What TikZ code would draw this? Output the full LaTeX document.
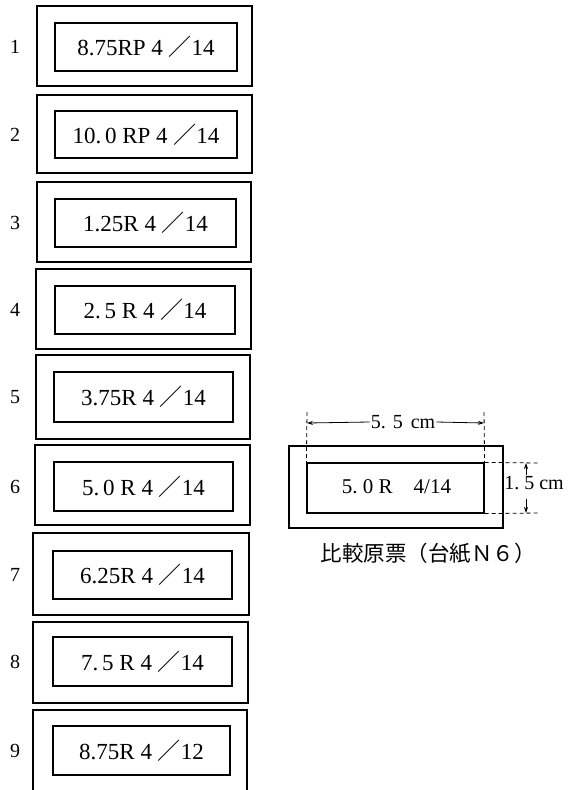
\documentclass[tikz,border=0pt]{standalone}
\usepackage{fontspec}
\setmainfont{Liberation Serif}
\newfontfamily\cjk{Noto Sans CJK JP}
\usetikzlibrary{arrows.meta}
\tikzset{
  outerbox/.style={draw, line width=1.2pt, inner sep=0pt},
  innerbox/.style={draw, line width=1.2pt, inner sep=0pt, font=\fontsize{23}{23}\selectfont},
  numlab/.style={font=\fontsize{20}{20}\selectfont, inner sep=0pt},
  dimline/.style={dashed, line width=0.8pt, dash pattern=on 4pt off 3pt},
  dimarrow/.style={line width=0.8pt, -{Stealth[length=6pt,width=4pt]}},
}
\newcommand\slotbox[9]{%
  \node[outerbox, minimum width={#3-#2}, minimum height={#5-#4}] (o#1) at ({(#2+#3)/2},{(#4+#5)/2}) {};
  \node[innerbox, minimum width={#7-#6}, minimum height={#9-#8}] (i#1) at ({(#6+#7)/2},{(#8+#9)/2}) {\boxtext};
  \node[numlab] (n#1) at (15,{(#8+#9)/2}) {#1};
}
\begin{document}
\begin{tikzpicture}[x=1pt,y=-1pt]
\useasboundingbox (0,0) rectangle (578,790);
\def\sl{{\cjk ／}}
\def\boxtext{8.75RP 4 \sl14}\slotbox{1}{37}{252}{6}{86}{55}{237}{23}{71}
\def\boxtext{10.\,0 RP 4 \sl14}\slotbox{2}{37}{252}{95}{173}{55}{237}{111}{158}
\def\boxtext{1.25R 4 \sl14}\slotbox{3}{37}{251}{182}{262}{55}{236}{199}{247}
\def\boxtext{2.\,5 R 4 \sl14}\slotbox{4}{36}{251}{269}{349}{55}{235}{286}{334}
\def\boxtext{3.75R 4 \sl14}\slotbox{5}{36}{250}{355}{439}{54}{233}{372}{422}
\def\boxtext{5.\,0 R 4 \sl14}\slotbox{6}{35}{250}{445}{525}{54}{233}{462}{511}
\def\boxtext{6.25R 4 \sl14}\slotbox{7}{33}{249}{533}{615}{53}{232}{551}{599}
\def\boxtext{7.\,5 R 4 \sl14}\slotbox{8}{33}{248}{622}{703}{53}{232}{637}{686}
% box 9: outer open at the bottom
\draw[line width=1.2pt] (33,791) -- (33,710) -- (247,710) -- (247,791);
\coordinate (o9) at (140,750);
\node[innerbox, minimum width=177, minimum height=49] (i9) at (141.5,750.5) {8.75R 4 \sl12};
\node[numlab] (n9) at (15,750.5) {9};
% reference card
\node[outerbox, minimum width=214, minimum height=82] (card) at (396,487) {};
\node[innerbox, minimum width=177, minimum height=50] (cardin) at (395.5,488) {};
\node[font=\fontsize{21}{21}\selectfont, inner sep=0pt] (cardtxt) at (396.5,487) {5.\ 0 R\quad 4/14};
\coordinate (tl) at (307,412);
\coordinate (tr) at (484,412);
\draw[dimline] (tl) -- (cardin.north west);
\draw[dimline] (tr) -- (cardin.north east);
\coordinate (al) at (307,423);
\coordinate (ar) at (484,423);
\node[font=\fontsize{20}{20}\selectfont, inner sep=1pt] (w) at (403,422) {5.\hspace{0.35em}5\hspace{0.4em}cm};
\draw[dimarrow] (w.west) -- (al);
\draw[dimarrow] (w.east) -- (ar);
\coordinate (rt) at (538,463);
\coordinate (rb) at (538,513);
\draw[dimline] (cardin.north east) -- (rt);
\draw[dimline] (cardin.south east) -- (rb);
\coordinate (vt) at (526,463);
\coordinate (vb) at (526,513);
\coordinate (vt0) at (526,475);
\coordinate (vb0) at (526,499);
\draw[dimarrow] (vt0) -- (vt);
\draw[dimarrow] (vb0) -- (vb);
\node[font=\fontsize{20}{20}\selectfont, inner sep=0pt] (h) at (534,483) {1.\ 5 cm};
\node[font=\cjk\fontsize{21.5}{21.5}\selectfont, inner sep=0pt] (cap) at (428,553) {比較原票（台紙Ｎ６）};
\end{tikzpicture}
\end{document}
